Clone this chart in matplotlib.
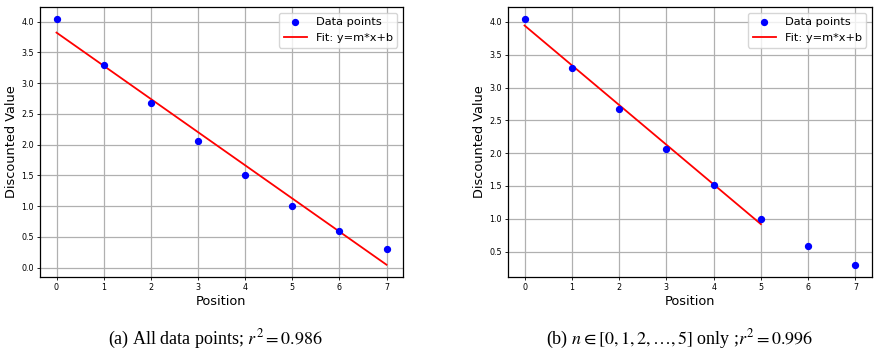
import numpy as np
import matplotlib
matplotlib.use('Agg')
import matplotlib.pyplot as plt

# datos
posiciones = [0, 1, 2, 3, 4, 5, 6, 7]
valores = [4.04, 3.30, 2.68, 2.06, 1.51, 1.00, 0.59, 0.30]
n_ajuste = [8, 6]  # puntos usados en cada ajuste
titulos = [r'(a) All data points; $r^2 = 0.986$',
           r'(b) $n \in [0,1,2,\ldots,5]$ only ;$r^2 = 0.996$']

plt.rcParams['mathtext.fontset'] = 'stix'

fig = plt.figure(figsize=(8.78, 3.53), dpi=100)
W, H = 878, 353
cajas = [(40, 7, 403, 277), (508, 7, 872, 277)]
centros = [215, 680]

x = np.array(posiciones)
y = np.array(valores)

for caja, k, titulo, cx in zip(cajas, n_ajuste, titulos, centros):
    x0, y0, x1, y1 = caja
    ax = fig.add_axes([x0 / W, 1 - y1 / H, (x1 - x0) / W, (y1 - y0) / H])
    ax.scatter(x, y, color='blue', s=18, label='Data points', zorder=3)
    m, b = np.polyfit(x[:k], y[:k], 1)
    ax.plot(x[:k], m * x[:k] + b, color='red', lw=1.3, label='Fit: y=m*x+b')
    ax.grid(True, color='#b0b0b0', lw=0.9)
    ax.set_axisbelow(True)
    ax.tick_params(labelsize=5.8, length=2.5, width=0.6, pad=2)
    ax.set_xlabel('Position', fontsize=9.3, labelpad=2)
    ax.set_ylabel('Discounted Value', fontsize=9.3, labelpad=2)
    ax.legend(loc='upper right', fontsize=8.2, handlelength=2.0,
              borderaxespad=0.5)
    for s in ax.spines.values():
        s.set_linewidth(0.9)
    fig.text(cx / W, 1 - 339 / H, titulo, ha='center', va='center',
             fontsize=13, family=['Liberation Serif', 'STIXGeneral'])

plt.savefig('out.png', dpi=100)
